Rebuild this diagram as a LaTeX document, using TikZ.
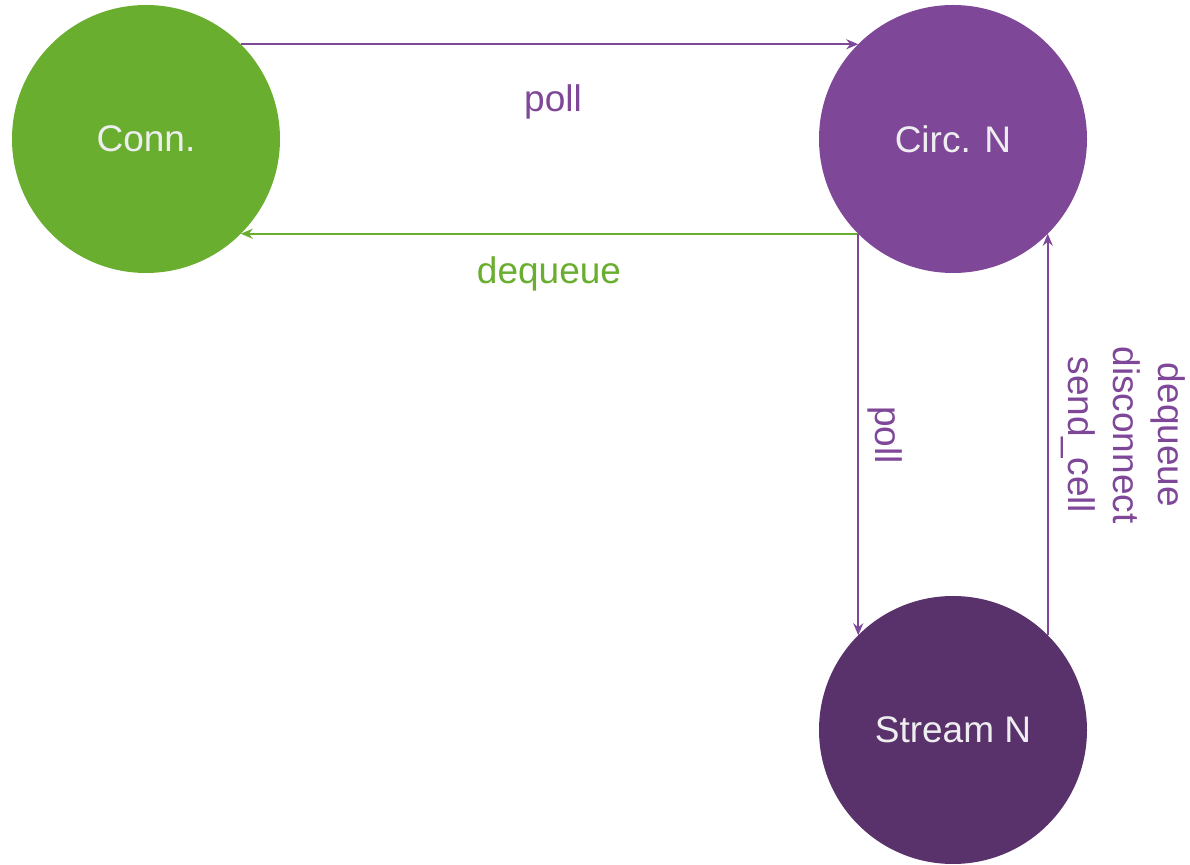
\documentclass[tikz,border=0pt]{standalone}
\usepackage{fontspec}
\setmainfont{Liberation Sans}
\usetikzlibrary{arrows.meta}
\definecolor{cgreen}{RGB}{106,174,48}
\definecolor{cpurple}{RGB}{126,71,152}
\definecolor{cdark}{RGB}{89,50,107}
\definecolor{ctext}{RGB}{238,238,240}
\begin{document}
\begin{tikzpicture}[x=0.5pt,y=-0.5pt,
  state/.style={circle,draw=none,minimum size=134pt,inner sep=0pt,outer sep=0pt,
    text=ctext,font=\fontsize{18.5}{22}\selectfont},
  conn/.style={line width=1pt,-{Stealth[length=6pt,width=5pt,inset=2pt]}},
  lbl/.style={font=\fontsize{18.5}{22.5}\selectfont,inner sep=0pt}]
\useasboundingbox (0,0) rectangle (1190,865);
\node[state,fill=cgreen] (conn) at (146,139) {Conn.};
\node[state,fill=cpurple] (circ) at (953,139) {Circ. N};
\node[state,fill=cdark] (stream) at (953,730) {Stream N};
\draw[conn,cpurple] (conn.45) -- (circ.135);
\draw[conn,cgreen] (circ.225) -- (conn.-45);
\draw[conn,cpurple] (circ.225) -- (circ.225 |- stream.135);
\draw[conn,cpurple] (stream.45) -- (stream.45 |- circ.-45);
\node[lbl,text=cpurple] (l1) at (553,102) {poll};
\node[lbl,text=cgreen] (l2) at (549,274) {dequeue};
\node[lbl,text=cpurple,rotate=-90] (l3) at (885,435) {poll};
\node[lbl,text=cpurple,rotate=-90,align=center] (l4) at (1123,435) {dequeue\\disconnect\\send\_cell};
\end{tikzpicture}
\end{document}
